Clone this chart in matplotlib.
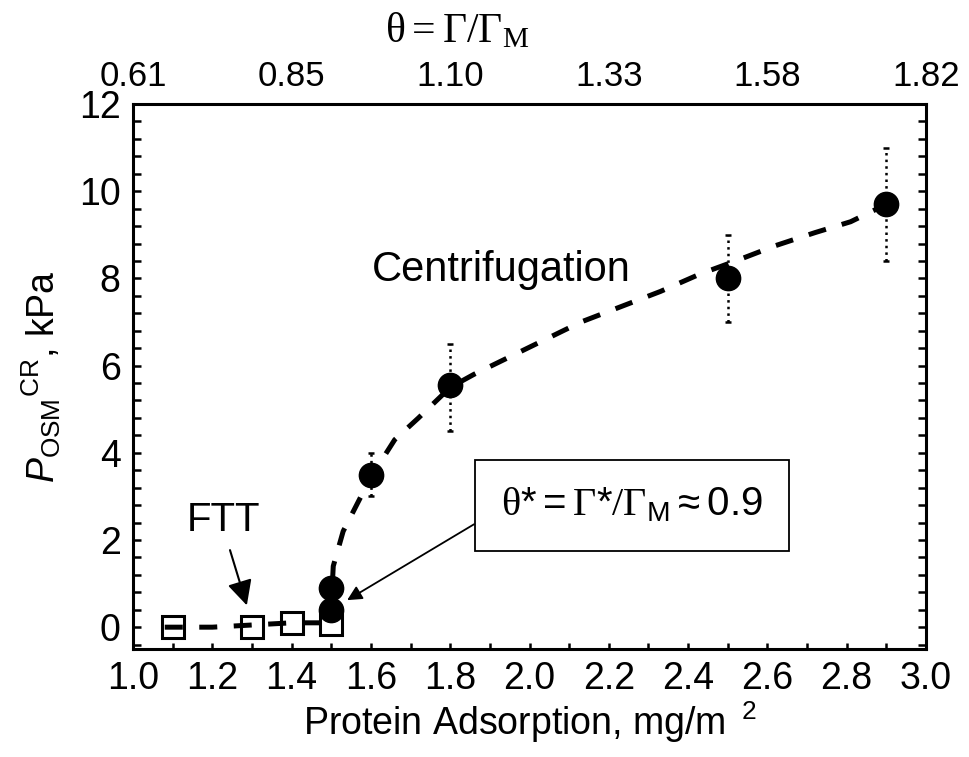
import numpy as np
import matplotlib
matplotlib.use('Agg')
import matplotlib.pyplot as plt
from matplotlib.ticker import MultipleLocator

plt.rcParams['font.family'] = ['Liberation Sans', 'DejaVu Sans']
plt.rcParams['mathtext.fontset'] = 'custom'
plt.rcParams['mathtext.rm'] = 'Liberation Serif'
plt.rcParams['mathtext.sf'] = 'Liberation Sans'
plt.rcParams['mathtext.it'] = 'Liberation Sans:italic'
plt.rcParams['mathtext.bf'] = 'Liberation Sans:bold'

## data
ftt_x = [1.1, 1.3, 1.4, 1.5]
ftt_y = [0.0, 0.0, 0.1, 0.07]

cent_x = [1.5, 1.5, 1.6, 1.8, 2.5, 2.9]
cent_y = [0.4, 0.9, 3.5, 5.55, 8.0, 9.7]

err_x = [1.6, 1.8, 2.5, 2.9]
err_y = [3.5, 5.55, 8.0, 9.7]
err_lo = [3.0, 4.5, 7.0, 8.4]
err_hi = [4.0, 6.5, 9.0, 11.0]

fit_x = [1.08, 1.2, 1.3, 1.4, 1.49, 1.50, 1.505, 1.53, 1.575, 1.6, 1.625, 1.66,
         1.72, 1.8, 1.86, 1.95, 2.04, 2.13, 2.23, 2.33, 2.43, 2.52, 2.62, 2.72,
         2.81, 2.9]
fit_y = [0.0, 0.0, 0.05, 0.1, 0.1, 0.5, 1.4, 2.2, 3.0, 3.5, 3.8, 4.3,
         4.8, 5.5, 5.8, 6.2, 6.6, 7.0, 7.35, 7.7, 8.1, 8.4, 8.75, 9.05,
         9.3, 9.7]

top_pos = [1.0, 1.4, 1.8, 2.2, 2.6, 3.0]
top_labels = ['0.61', '0.85', '1.10', '1.33', '1.58', '1.82']

fig = plt.figure(figsize=(9.69, 7.57), dpi=100)
ax = fig.add_axes([0.1373, 0.1427, 0.8183, 0.7199])

ax.plot(fit_x, fit_y, color='k', lw=3.6, dashes=[3.6, 3.3],
        dash_capstyle='butt', zorder=2)
ax.plot(ftt_x, ftt_y, 's', ms=16.5, mfc='none', mec='k', mew=2.2, zorder=3)

yerr = [np.array(err_y) - np.array(err_lo), np.array(err_hi) - np.array(err_y)]
eb = ax.errorbar(err_x, err_y, yerr=yerr, fmt='none', ecolor='k',
                 elinewidth=1.8, capsize=2.5, capthick=1.8, zorder=2)
for lc in eb[2]:
    lc.set_linestyle(':')
ax.plot(cent_x, cent_y, 'o', ms=17.5, color='k', zorder=4)

ax.set_xlim(1.0, 3.0)
ax.set_ylim(-0.5, 12)
ax.xaxis.set_major_locator(MultipleLocator(0.2))
ax.xaxis.set_minor_locator(MultipleLocator(0.1))
ax.yaxis.set_major_locator(MultipleLocator(2))
ax.yaxis.set_minor_locator(MultipleLocator(0.4))
ax.xaxis.set_major_formatter(plt.FormatStrFormatter('%.1f'))

ax.tick_params(axis='x', which='both', direction='in', length=4.5, width=1.8,
               top=True, labelsize=27, pad=9)
ax.tick_params(axis='y', which='both', direction='in', length=6, width=1.8,
               right=True, labelsize=27, pad=9)
for sp in ax.spines.values():
    sp.set_linewidth(2.2)

ax.set_xlabel(r'Protein Adsorption, mg/m$^{\ \ \mathsf{2}}$', fontsize=27)
ax.xaxis.set_label_coords(0.5, -0.093)
ax.set_ylabel(r'$\mathit{P}_{\mathsf{OSM}}{}^{\mathsf{CR}}$, kPa', fontsize=27)
ax.yaxis.set_label_coords(-0.088, 0.5)

twin = ax.twiny()
twin.set_xlim(ax.get_xlim())
twin.set_xticks(top_pos)
twin.set_xticklabels(top_labels)
twin.tick_params(axis='x', length=0, labelsize=25, pad=8)
for sp in twin.spines.values():
    sp.set_visible(False)

fig.text(0.472, 0.958, r'$\mathrm{\theta = \Gamma/\Gamma_M}$', fontsize=30,
         ha='center', va='center')

ax.text(1.603, 8.2, 'Centrifugation', fontsize=30, va='center', ha='left')
ax.annotate('FTT', xy=(1.287, 0.5), xytext=(1.227, 2.45), fontsize=29,
            ha='center', va='center',
            arrowprops=dict(arrowstyle='-|>', color='k', lw=1.5,
                            mutation_scale=38, shrinkA=6, shrinkB=0,
                            relpos=(0.55, 0.0)))
ax.annotate(r'$\mathrm{\theta}\mathsf{*}\mathsf{=}\mathrm{\Gamma}\mathsf{*}/\mathrm{\Gamma}_{\mathsf{M}}\mathsf{\approx}\mathsf{0.9}$',
            xy=(1.54, 0.62), xytext=(2.258, 2.8), fontsize=29,
            ha='center', va='center',
            bbox=dict(boxstyle='square,pad=0.65', fc='white', ec='k', lw=1.3),
            arrowprops=dict(arrowstyle='-|>', color='k', lw=1.3,
                            mutation_scale=22, shrinkA=0, shrinkB=0,
                            relpos=(0.0, 0.42)))

fig.savefig('out.png', dpi=100)
